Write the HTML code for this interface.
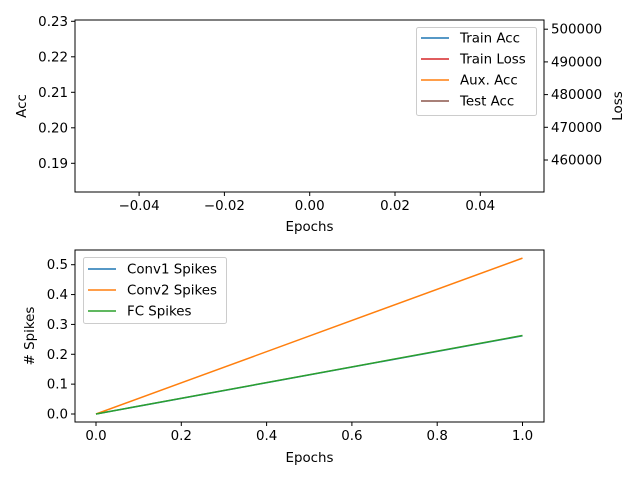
<!DOCTYPE html>
<html><head><meta charset="utf-8"><style>
html,body{margin:0;padding:0;background:#fff;}
svg{display:block;font-family:"DejaVu Sans","Liberation Sans",sans-serif;}
</style></head><body>
<svg id="c" width="640" height="480" xmlns="http://www.w3.org/2000/svg"></svg>
<script>
const topXTicks=[-0.04,-0.02,0.00,0.02,0.04];
const topAccTicks=[0.19,0.20,0.21,0.22,0.23];
const topLossTicks=[460000,470000,480000,490000,500000];
const topLegend=["Train Acc","Train Loss","Aux. Acc","Test Acc"];
const topLegendColors=["#1f77b4","#d62728","#ff7f0e","#8c564b"];
const epochs=[0,1];
const conv1Spikes=[0,0.262];
const conv2Spikes=[0,0.522];
const fcSpikes=[0,0.263];
const botXTicks=[0.0,0.2,0.4,0.6,0.8,1.0];
const botYTicks=[0.0,0.1,0.2,0.3,0.4,0.5];
const botLegend=["Conv1 Spikes","Conv2 Spikes","FC Spikes"];
const botColors=["#1f77b4","#ff7f0e","#2ca02c"];

const svg=document.getElementById('c');
const NS="http://www.w3.org/2000/svg";
function mk(tag,attrs,parent){const e=document.createElementNS(NS,tag);for(const k in attrs)e.setAttribute(k,attrs[k]);(parent||svg).appendChild(e);return e;}
function txt(s,attrs){const t=mk('text',Object.assign({'font-size':13.4,fill:'#000'},attrs));t.textContent=s;return t;}
function fmt(v,d){return (v<0?'\u2212':'')+Math.abs(v).toFixed(d);}

// top axes
const L=75,R=544,T1=20,B1=192;
const tx=v=>309.7+v/0.02*85.3;
const ty=v=>163.3-(v-0.19)/0.01*35.5;
const tl=v=>160-(v-460000)/10000*32.7;
const g1=mk('g',{});


mk('rect',{x:L,y:T1,width:R-L,height:B1-T1,fill:'none',stroke:'#000','stroke-width':1},g1);
topXTicks.forEach(v=>{const x=tx(v);mk('line',{x1:x,x2:x,y1:B1,y2:B1+4,stroke:'#000'},g1);
 const t=txt(fmt(v,2),{x:x,y:B1+18,'text-anchor':'middle'});});
topAccTicks.forEach(v=>{const y=ty(v);mk('line',{x1:L-4,x2:L,y1:y,y2:y,stroke:'#000'},g1);
 const t=txt(v.toFixed(2),{x:L-7,y:y+4.5,'text-anchor':'end'});});
topLossTicks.forEach(v=>{const y=tl(v);mk('line',{x1:R,x2:R+4,y1:y,y2:y,stroke:'#000'},g1);
 const t=txt(String(v),{x:R+7,y:y+4.5});});
let t=txt('Epochs',{x:(L+R)/2,y:231,'text-anchor':'middle'});
t=txt('Acc',{x:26,y:106,'text-anchor':'middle',transform:'rotate(-90 26 106)'});
t=txt('Loss',{x:622,y:106,'text-anchor':'middle',transform:'rotate(-90 622 106)'});
const lg1=mk('g',{});


mk('rect',{x:416.5,y:27.5,width:120,height:88,rx:2,fill:'#fff',stroke:'#ccc'},lg1);
topLegend.forEach((s,i)=>{const y=38+i*21;mk('line',{x1:421,x2:449,y1:y,y2:y,stroke:topLegendColors[i],'stroke-width':1.5},lg1);
 const e=txt(s,{x:460,y:y+4.5});});

// bottom axes
const T2=250,B2=422;
const bx=v=>96+v/0.2*85.3;
const by=v=>414-v/0.1*29.86;
const g2=mk('g',{});


mk('rect',{x:L,y:T2,width:R-L,height:B2-T2,fill:'none',stroke:'#000'},g2);
botXTicks.forEach(v=>{const x=bx(v);mk('line',{x1:x,x2:x,y1:B2,y2:B2+4,stroke:'#000'},g2);
 const e=txt(v.toFixed(1),{x:x,y:B2+18,'text-anchor':'middle'});});
botYTicks.forEach(v=>{const y=by(v);mk('line',{x1:L-4,x2:L,y1:y,y2:y,stroke:'#000'},g2);
 const e=txt(v.toFixed(1),{x:L-7,y:y+4.5,'text-anchor':'end'});});
[conv1Spikes,conv2Spikes,fcSpikes].forEach((s,i)=>{
 const p=mk('polyline',{points:epochs.map((e,j)=>bx(e)+','+by(s[j])).join(' '),fill:'none',stroke:botColors[i],'stroke-width':1.5},g2);
 });
t=txt('Epochs',{x:(L+R)/2,y:462,'text-anchor':'middle'});
t=txt('# Spikes',{x:34,y:336,'text-anchor':'middle',transform:'rotate(-90 34 336)'});
const lg2=mk('g',{});


mk('rect',{x:83.5,y:257.5,width:143,height:66,rx:2,fill:'#fff',stroke:'#ccc'},lg2);
botLegend.forEach((s,i)=>{const y=269+i*21;mk('line',{x1:88,x2:116,y1:y,y2:y,stroke:botColors[i],'stroke-width':1.5},lg2);
 const e=txt(s,{x:127,y:y+4.5});});
</script>
</body></html>
